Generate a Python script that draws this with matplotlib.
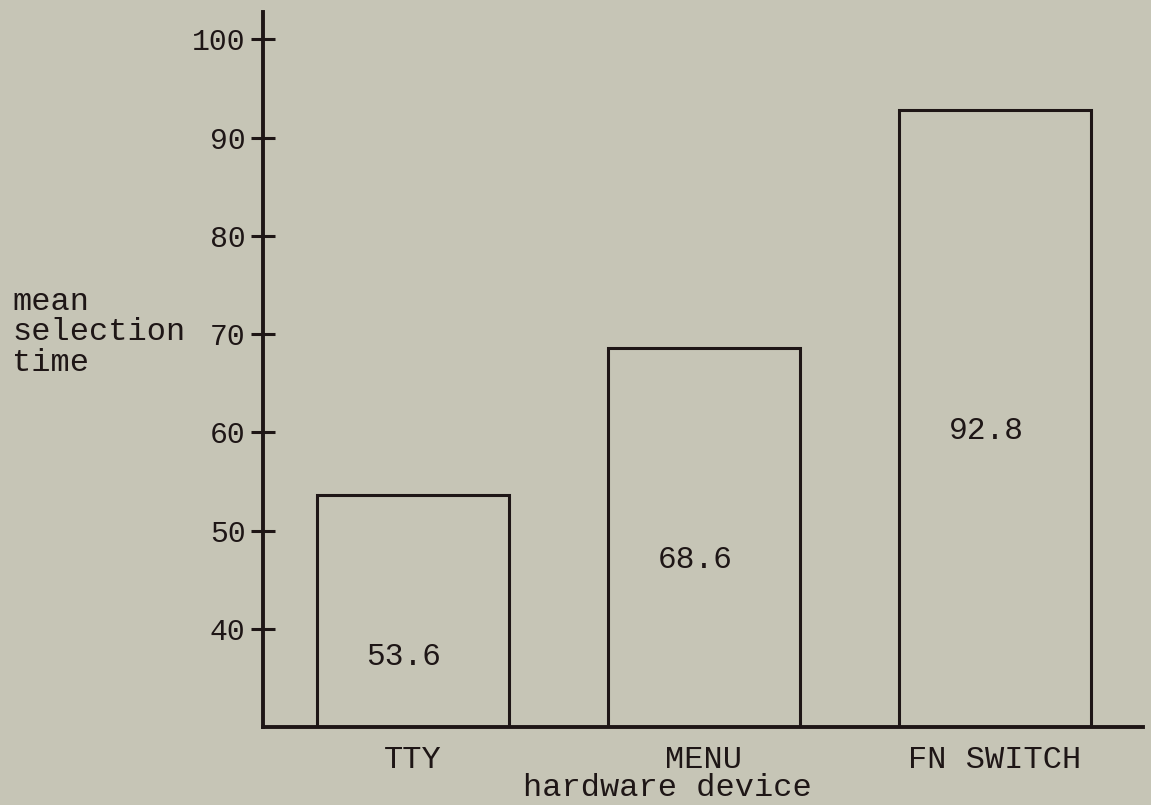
import matplotlib.pyplot as plt

devices = ["TTY", "MENU", "FN SWITCH"]
mean_times = [53.6, 68.6, 92.8]
yticks = [40, 50, 60, 70, 80, 90, 100]

bg = "#c6c5b6"
ink = "#1e1616"
plt.rcParams["font.family"] = ["Liberation Mono", "DejaVu Sans Mono"]

fig = plt.figure(figsize=(11.51, 8.05), dpi=100, facecolor=bg)
ax = fig.add_axes([0.2285, 0.0969, 0.7646, 0.8882])
ax.set_facecolor(bg)

x = list(range(len(devices)))
ax.bar(x, mean_times, width=0.66, bottom=0, fill=False, edgecolor=ink, linewidth=2.2)

# value labels sit low inside each bar
label_y = [37.1, 47.0, 60.1]
for xi, v, ly in zip(x, mean_times, label_y):
    ax.text(xi - 0.03, ly, f"{v:.1f}", ha="center", va="center", fontsize=22.5, color=ink)

ax.set_xlim(-0.514, 2.51)
ax.set_ylim(30, 102.8)

for side in ["top", "right"]:
    ax.spines[side].set_visible(False)
for side in ["left", "bottom"]:
    ax.spines[side].set_linewidth(2.8)
    ax.spines[side].set_color(ink)

ax.set_yticks(yticks)
ax.set_yticklabels([str(t) for t in yticks], fontsize=21.5, color=ink)
ax.tick_params(axis="y", direction="inout", length=17, width=2.2, color=ink, pad=4)

ax.set_xticks(x)
ax.set_xticklabels(devices, fontsize=23, color=ink)
ax.tick_params(axis="x", length=0, pad=13)

ax.text(0.459, -0.085, "hardware device", transform=ax.transAxes,
        ha="center", va="center", fontsize=23, color=ink)
fig.text(0.0104, 0.587, "mean\nselection\ntime", ha="left", va="center",
         fontsize=23, color=ink, linespacing=1.02)

plt.savefig("out.png", dpi=100, facecolor=bg)
